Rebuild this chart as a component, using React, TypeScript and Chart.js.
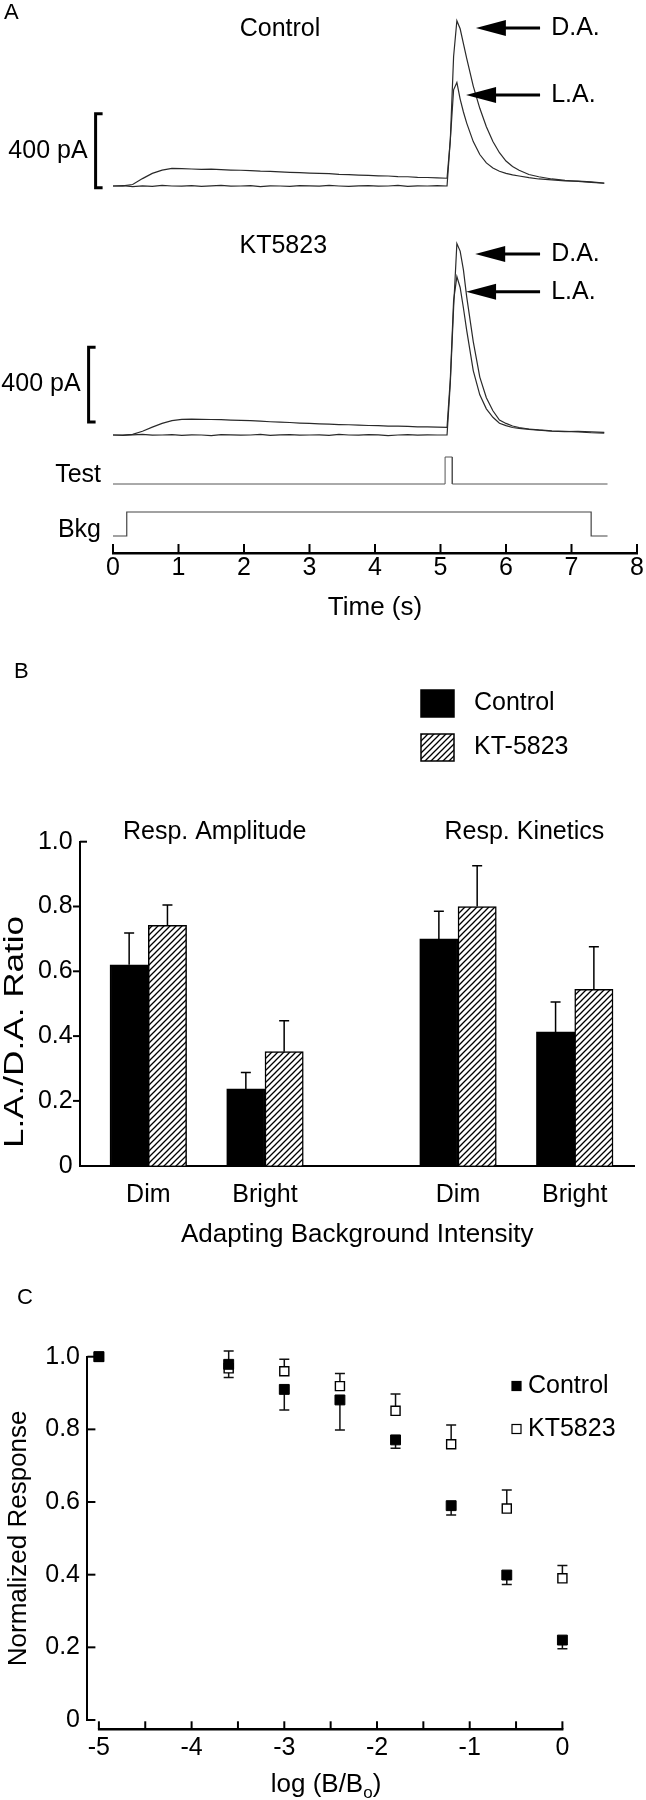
import React, { useEffect, useRef } from 'react';
import { Chart, registerables } from 'chart.js';

Chart.register(...registerables);

const FONT_FAMILY = "'Liberation Sans', Arial, Helvetica, sans-serif";
const font = (size: number) => `${size}px ${FONT_FAMILY}`;
const TEXT = 25;
Chart.defaults.font.family = FONT_FAMILY;
Chart.defaults.color = '#000';

// ---------------- Panel A : current traces ----------------
const traceTime = [0, 0.15, 0.3, 0.45, 0.6, 0.75, 0.9, 1.05, 1.2, 1.35, 1.5, 1.65, 1.8, 1.95, 2.1, 2.25, 2.4, 2.55, 2.7, 2.85, 3.0, 3.15, 3.3, 3.45, 3.6, 3.75, 3.9, 4.05, 4.2, 4.35, 4.5, 4.65, 4.8, 4.95, 5.1,
  5.15, 5.2, 5.25, 5.3, 5.35, 5.4, 5.5, 5.6, 5.7, 5.8, 5.9, 6.0, 6.1, 6.2, 6.35, 6.5, 6.7, 6.9, 7.1, 7.3, 7.5];
const controlDA = [0, 2, -3, 1, -2, 3, 0, -1, 2, -2, 1, 3, -1, 0, 2, -3, 1, 0, -2, 2, 1, -1, 3, 0, -2, 1, 2, -1, 0, 3, -2, 1, 0, 2, 0,
  250, 700, 893, 850, 770, 690, 540, 420, 320, 240, 180, 135, 105, 85, 62, 50, 38, 30, 25, 20, 15];
const controlLA = [0, 1, 8, 40, 68, 86, 95, 94, 92, 90, 91, 88, 86, 85, 83, 80, 79, 76, 74, 72, 70, 68, 67, 63, 62, 59, 57, 55, 54, 51, 50, 47, 46, 44, 42,
  250, 520, 560, 470, 400, 340, 240, 170, 125, 97, 80, 68, 60, 54, 45, 38, 33, 28, 26, 22, 16];
const ktDA = [0, -2, 1, 3, -1, 0, 2, -2, 1, 0, -3, 2, 1, -1, 0, 3, -2, 1, 2, -1, 0, 1, -2, 3, 0, -1, 2, 1, -3, 0, 2, -1, 1, 0, 0,
  280, 680, 1025, 985, 884, 740, 500, 310, 200, 130, 80, 62, 48, 40, 32, 27, 22, 19, 16, 12, 10];
const ktLA = [0, 0, 3, 20, 42, 62, 77, 84, 85, 84, 83, 82, 80, 78, 77, 74, 71, 69, 67, 64, 62, 60, 58, 56, 55, 53, 51, 50, 48, 47, 46, 44, 43, 42, 41,
  300, 720, 848, 790, 680, 560, 345, 215, 140, 95, 63, 50, 40, 35, 30, 26, 20, 18, 20, 17, 14];
const testTime = [0, 5.07, 5.07, 5.18, 5.18, 7.55];
const testLevel = [0, 0, 1, 1, 0, 0];
const bkgTime = [0, 0.21, 0.21, 7.3, 7.3, 7.55];
const bkgLevel = [0, 0, 1, 1, 0, 0];
const timeTicks = [0, 1, 2, 3, 4, 5, 6, 7, 8];
const scaleBarPA = 400;

const tracePanels = [
  { title: 'Control', axis: 'yCtrl', titleAt: [2.55, 849], barX: 95.6, barBase: -10,
    arrows: [{ label: 'D.A.', t: 5.54, v: 854 }, { label: 'L.A.', t: 5.39, v: 492 }] },
  { title: 'KT5823', axis: 'yKT', titleAt: [2.6, 1012], barX: 88.6, barBase: 70,
    arrows: [{ label: 'D.A.', t: 5.53, v: 969 }, { label: 'L.A.', t: 5.39, v: 767 }] },
];

// ---------------- Panel B : ratio bars ----------------
const measures = ['Resp. Amplitude', 'Resp. Kinetics'];
const intensities = ['Dim', 'Bright'];
const controlRatio = [0.62, 0.237, 0.70, 0.413];
const controlRatioErr = [0.098, 0.051, 0.085, 0.092];
const ktRatio = [0.742, 0.352, 0.80, 0.544];
const ktRatioErr = [0.063, 0.095, 0.126, 0.132];
const ratioTicks = [0, 0.2, 0.4, 0.6, 0.8, 1.0];

// ---------------- Panel C : normalized response ----------------
const logIntensity = [-5, -3.6, -3.0, -2.4, -1.8, -1.2, -0.6, 0];
const controlResp = [1.0, 0.979, 0.910, 0.881, 0.771, 0.590, 0.399, 0.220];
const controlSem = [0, 0.036, 0.057, 0.083, 0.023, 0.026, 0.026, 0.024];
const ktResp = [1.0, 0.968, 0.960, 0.919, 0.851, 0.759, 0.582, 0.390];
const ktSem = [0, 0.048, 0.033, 0.035, 0.046, 0.053, 0.051, 0.035];
const logTicks = [-5, -4, -3, -2, -1, 0];
const logMinorTicks = [-5, -4.5, -4, -3.5, -3, -2.5, -2, -1.5, -1, -0.5, 0];
const respTicks = [0, 0.2, 0.4, 0.6, 0.8, 1.0];

const fmtTick = (v: number) => (Math.abs(v) < 1e-9 ? '0' : Number(v).toFixed(1));

function drawArrow(ctx: any, tipX: number, y: number, endX: number) {
  const head = 30, half = 8;
  ctx.beginPath();
  ctx.moveTo(tipX, y);
  ctx.lineTo(tipX + head, y - half);
  ctx.lineTo(tipX + head, y + half);
  ctx.closePath();
  ctx.fill();
  ctx.lineWidth = 3;
  ctx.beginPath();
  ctx.moveTo(tipX + head - 1, y);
  ctx.lineTo(endX, y);
  ctx.stroke();
}

// ---------------- builders ----------------
function buildPanelA(canvas: HTMLCanvasElement) {
  const H = 640;
  const AREA_BOTTOM = 553;
  const yRange = (zeroPx: number, upp: number) => ({ min: -(AREA_BOTTOM - zeroPx) * upp, max: zeroPx * upp });
  const line = (xs: number[], ys: number[], axis: string, color: string, width: number) => ({
    data: xs.map((t, i) => ({ x: t, y: ys[i] })),
    yAxisID: axis, borderColor: color, borderWidth: width, pointRadius: 0, tension: 0, fill: false,
  });
  const TRACE = '#2a2a2a';
  const plugin = {
    id: 'panelA',
    afterDraw(chart: any) {
      const { ctx, chartArea, scales } = chart;
      const x = scales.x;
      ctx.save();
      ctx.fillStyle = '#000';
      ctx.strokeStyle = '#000';
      ctx.lineWidth = 2;
      timeTicks.forEach((v) => {
        const px = x.getPixelForValue(v);
        ctx.beginPath();
        ctx.moveTo(px, chartArea.bottom);
        ctx.lineTo(px, chartArea.bottom - 9);
        ctx.stroke();
      });
      ctx.textBaseline = 'middle';
      ctx.textAlign = 'left';
      ctx.font = font(22);
      ctx.fillText('A', 4, 13);
      ctx.font = font(TEXT);
      tracePanels.forEach((p) => {
        const y = scales[p.axis];
        ctx.textAlign = 'center';
        ctx.fillText(p.title, x.getPixelForValue(p.titleAt[0]), y.getPixelForValue(p.titleAt[1]));
        const top = y.getPixelForValue(p.barBase + scaleBarPA);
        const bot = y.getPixelForValue(p.barBase);
        ctx.lineWidth = 3;
        ctx.beginPath();
        ctx.moveTo(p.barX + 7, top);
        ctx.lineTo(p.barX, top);
        ctx.lineTo(p.barX, bot);
        ctx.lineTo(p.barX + 7, bot);
        ctx.stroke();
        ctx.textAlign = 'right';
        ctx.fillText(`${scaleBarPA} pA`, p.barX - 8, (top + bot) / 2);
        p.arrows.forEach((a) => {
          const ay = y.getPixelForValue(a.v);
          drawArrow(ctx, x.getPixelForValue(a.t), ay, x.getPixelForValue(6.52));
          ctx.textAlign = 'left';
          ctx.fillText(a.label, x.getPixelForValue(6.69), ay);
        });
      });
      ctx.textAlign = 'right';
      ctx.fillText('Test', 101, scales.yTest.getPixelForValue(0.33));
      ctx.fillText('Bkg', 101, scales.yBkg.getPixelForValue(0.25));
      ctx.restore();
    },
  };
  return new Chart(canvas, {
    type: 'line',
    data: {
      datasets: [
        line(traceTime, controlDA, 'yCtrl', TRACE, 1.2),
        line(traceTime, controlLA, 'yCtrl', TRACE, 1.2),
        line(traceTime, ktDA, 'yKT', TRACE, 1.2),
        line(traceTime, ktLA, 'yKT', TRACE, 1.2),
        line(testTime, testLevel, 'yTest', '#555', 1),
        line(bkgTime, bkgLevel, 'yBkg', '#444', 1.2),
      ] as any,
    },
    options: {
      animation: false,
      responsive: false,
      devicePixelRatio: 1,
      layout: { padding: { left: 113, right: 9, top: 0, bottom: 0 } },
      plugins: { legend: { display: false }, tooltip: { enabled: false } },
      scales: {
        x: {
          type: 'linear', min: 0, max: 8, position: 'bottom', offset: false,
          grid: { display: false, drawTicks: false },
          border: { display: true, color: '#000', width: 2.5 },
          ticks: { stepSize: 1, autoSkip: false, maxRotation: 0, padding: 0, color: '#000', font: { size: TEXT } },
          title: { display: true, text: 'Time (s)', color: '#000', font: { size: 26 }, padding: { top: 0, bottom: 17 } },
          afterFit: (s: any) => { s.height = H - AREA_BOTTOM; },
        },
        yCtrl: { type: 'linear', display: false, ...yRange(186, scaleBarPA / 74) },
        yKT: { type: 'linear', display: false, ...yRange(435, scaleBarPA / 74.7) },
        yTest: { type: 'linear', display: false, ...yRange(484, 1 / 27) },
        yBkg: { type: 'linear', display: false, ...yRange(536, 1 / 24) },
      } as any,
    },
    plugins: [plugin],
  } as any);
}

function makeHatch(ctx: CanvasRenderingContext2D) {
  const s = 6;
  const c = document.createElement('canvas');
  c.width = s;
  c.height = s;
  const g = c.getContext('2d')!;
  g.fillStyle = '#fff';
  g.fillRect(0, 0, s, s);
  g.strokeStyle = '#000';
  g.lineWidth = 1.3;
  g.beginPath();
  g.moveTo(0, s); g.lineTo(s, 0);
  g.moveTo(-s / 2, s / 2); g.lineTo(s / 2, -s / 2);
  g.moveTo(s / 2, s * 1.5); g.lineTo(s * 1.5, s / 2);
  g.stroke();
  return ctx.createPattern(c, 'repeat');
}

function buildPanelB(canvas: HTMLCanvasElement) {
  const H = 610;
  const AREA_TOP = 201.7;
  const AREA_BOTTOM = 525.7;
  const AXIS_LEFT = 80;
  const AXIS_RIGHT = 634.5;
  const GROUP_GAP = 2.654;
  const PX_PER_SLOT = 116.7;
  const FIRST_PX = 148.3;
  const positions = measures.flatMap((_, mi) => intensities.map((__, ii) => mi * GROUP_GAP + ii));
  const tickNames = measures.flatMap(() => intensities);
  const xMin = -(FIRST_PX - AXIS_LEFT) / PX_PER_SLOT;
  const xMax = xMin + (AXIS_RIGHT - AXIS_LEFT) / PX_PER_SLOT;
  const hatch = makeHatch(canvas.getContext('2d')!);
  const plugin = {
    id: 'panelB',
    afterDatasetsDraw(chart: any) {
      const { ctx, scales } = chart;
      ctx.save();
      ctx.strokeStyle = '#000';
      ctx.lineWidth = 1.5;
      chart.data.datasets.forEach((ds: any, di: number) => {
        chart.getDatasetMeta(di).data.forEach((bar: any, i: number) => {
          const top = scales.y.getPixelForValue(ds.data[i].y + ds.err[i]);
          ctx.beginPath();
          ctx.moveTo(bar.x, bar.y);
          ctx.lineTo(bar.x, top);
          ctx.moveTo(bar.x - 5, top);
          ctx.lineTo(bar.x + 5, top);
          ctx.stroke();
        });
      });
      ctx.restore();
    },
    afterDraw(chart: any) {
      const { ctx, chartArea, scales } = chart;
      ctx.save();
      ctx.fillStyle = '#000';
      ctx.strokeStyle = '#000';
      ctx.lineWidth = 2;
      ratioTicks.forEach((v) => {
        if (v === 0) return;
        const py = scales.y.getPixelForValue(v);
        const dir = v === 1 ? 1 : -1;
        ctx.beginPath();
        ctx.moveTo(chartArea.left, py);
        ctx.lineTo(chartArea.left + dir * 7, py);
        ctx.stroke();
      });
      ctx.textBaseline = 'middle';
      ctx.textAlign = 'left';
      ctx.font = font(22);
      ctx.fillText('B', 14, 32);
      // y title (stretched along its length like the original)
      ctx.save();
      ctx.translate(16, 392);
      ctx.rotate(-Math.PI / 2);
      ctx.scale(1.3, 1);
      ctx.textAlign = 'center';
      ctx.font = font(27);
      ctx.fillText('L.A./D.A. Ratio', 0, 0);
      ctx.restore();
      ctx.font = font(TEXT);
      chart.data.datasets.forEach((ds: any, i: number) => {
        const bx = 421, by = 50 + i * 44, bw = 33, bh = 27;
        ctx.fillStyle = ds.backgroundColor;
        ctx.fillRect(bx, by, bw, bh);
        ctx.strokeStyle = '#000';
        ctx.lineWidth = 1.5;
        ctx.strokeRect(bx, by, bw, bh);
        ctx.fillStyle = '#000';
        ctx.fillText(ds.label, 474, by + bh / 2);
      });
      ctx.textAlign = 'center';
      measures.forEach((m, mi) => {
        ctx.fillText(m, scales.x.getPixelForValue(mi * GROUP_GAP + 0.5) + 8, chartArea.top - 10);
      });
      ctx.restore();
    },
  };
  return new Chart(canvas, {
    type: 'bar',
    data: {
      datasets: [
        { label: 'Control', data: positions.map((p, i) => ({ x: p, y: controlRatio[i] })), err: controlRatioErr,
          backgroundColor: '#000', borderColor: '#000', borderWidth: 1.5, barThickness: 38.3 },
        { label: 'KT-5823', data: positions.map((p, i) => ({ x: p, y: ktRatio[i] })), err: ktRatioErr,
          backgroundColor: hatch, borderColor: '#000', borderWidth: 1.5, barThickness: 38.3 },
      ] as any,
    },
    options: {
      animation: false,
      responsive: false,
      devicePixelRatio: 1,
      layout: { padding: { left: 0, right: 646 - AXIS_RIGHT, top: AREA_TOP, bottom: 0 } },
      plugins: { legend: { display: false }, tooltip: { enabled: false } },
      scales: {
        x: {
          type: 'linear', min: xMin, max: xMax, offset: false,
          grid: { display: false, drawTicks: false, offset: false },
          border: { display: true, color: '#000', width: 2 },
          afterBuildTicks: (s: any) => { s.ticks = positions.map((v) => ({ value: v })); },
          ticks: { autoSkip: false, maxRotation: 0, padding: 14, color: '#000', font: { size: TEXT },
            callback: (_v: any, i: number) => tickNames[i] },
          title: { display: true, text: 'Adapting Background Intensity', color: '#000', font: { size: 26 }, padding: { top: 0, bottom: 0 } },
          afterFit: (s: any) => { s.height = H - AREA_BOTTOM; },
        },
        y: {
          type: 'linear', min: 0, max: 1,
          afterBuildTicks: (s: any) => { s.ticks = ratioTicks.map((v) => ({ value: v })); },
          ticks: { padding: 7.3, color: '#000', font: { size: TEXT }, callback: (v: any) => fmtTick(v) },
          grid: { display: false, drawTicks: false },
          border: { display: true, color: '#000', width: 2 },
          afterFit: (s: any) => { s.width = AXIS_LEFT; },
        },
      } as any,
    },
    plugins: [plugin],
  } as any);
}

function buildPanelC(canvas: HTMLCanvasElement) {
  const H = 550;
  const AREA_BOTTOM = 470;
  const AXIS_LEFT = 87.4;
  const AREA_RIGHT = 575;
  const PX_PER_LOG = 92.7;
  const FIRST_LOG_PX = 98.9;
  const xMin = logIntensity[0] - (FIRST_LOG_PX - AXIS_LEFT) / PX_PER_LOG;
  const xMax = xMin + (AREA_RIGHT - AXIS_LEFT) / PX_PER_LOG;
  const plugin = {
    id: 'panelC',
    beforeDatasetsDraw(chart: any) {
      const { ctx, scales } = chart;
      ctx.save();
      ctx.lineWidth = 1.5;
      chart.data.datasets.forEach((ds: any) => {
        ctx.strokeStyle = '#111';
        ds.data.forEach((pt: any, i: number) => {
          const e = ds.err[i];
          if (!e) return;
          const px = scales.x.getPixelForValue(pt.x);
          const y0 = scales.y.getPixelForValue(pt.y);
          const y1 = scales.y.getPixelForValue(pt.y + ds.errDir * e);
          ctx.beginPath();
          ctx.moveTo(px, y0);
          ctx.lineTo(px, y1);
          ctx.moveTo(px - 5, y1);
          ctx.lineTo(px + 5, y1);
          ctx.stroke();
        });
      });
      ctx.restore();
    },
    afterDraw(chart: any) {
      const { ctx, chartArea, scales } = chart;
      const x = scales.x;
      const axisY = chartArea.bottom + 9.3;
      ctx.save();
      ctx.strokeStyle = '#000';
      ctx.fillStyle = '#000';
      ctx.lineWidth = 2.5;
      ctx.beginPath();
      ctx.moveTo(x.getPixelForValue(logTicks[0]) - 1, axisY);
      ctx.lineTo(x.getPixelForValue(logTicks[logTicks.length - 1]) + 1, axisY);
      ctx.stroke();
      ctx.lineWidth = 2;
      logMinorTicks.forEach((v) => {
        const px = x.getPixelForValue(v);
        ctx.beginPath();
        ctx.moveTo(px, axisY);
        ctx.lineTo(px, axisY - 8);
        ctx.stroke();
      });
      respTicks.forEach((v) => {
        const py = scales.y.getPixelForValue(v);
        ctx.beginPath();
        ctx.moveTo(chartArea.left, py);
        ctx.lineTo(chartArea.left + 8, py);
        ctx.stroke();
      });
      ctx.textBaseline = 'middle';
      ctx.textAlign = 'left';
      ctx.font = font(22);
      ctx.fillText('C', 17, 48);
      const main = 'log (B/B';
      const sub = 'o';
      const tail = ')';
      ctx.font = font(26);
      const wMain = ctx.measureText(main).width;
      const wTail = ctx.measureText(tail).width;
      ctx.font = font(17);
      const wSub = ctx.measureText(sub).width;
      const cx = x.getPixelForValue(-2.55);
      const ty = 535;
      let sx = cx - (wMain + wSub + wTail) / 2;
      ctx.font = font(26);
      ctx.fillText(main, sx, ty);
      sx += wMain;
      ctx.font = font(17);
      ctx.fillText(sub, sx, ty + 8);
      sx += wSub;
      ctx.font = font(26);
      ctx.fillText(tail, sx, ty);
      ctx.font = font(TEXT);
      chart.data.datasets.forEach((ds: any, i: number) => {
        const cy = 136 + i * 43;
        const s = 9;
        ctx.fillStyle = ds.backgroundColor;
        ctx.fillRect(516.5 - s / 2, cy - s / 2, s, s);
        ctx.strokeStyle = '#000';
        ctx.lineWidth = 1.2;
        ctx.strokeRect(516.5 - s / 2, cy - s / 2, s, s);
        ctx.fillStyle = '#000';
        ctx.fillText(ds.label, 528, cy);
      });
      ctx.restore();
    },
  };
  return new Chart(canvas, {
    type: 'scatter',
    data: {
      datasets: [
        { label: 'Control', data: logIntensity.map((v, i) => ({ x: v, y: controlResp[i] })), err: controlSem, errDir: -1,
          pointStyle: 'rect', pointRadius: 7, backgroundColor: '#000', borderColor: '#000', borderWidth: 1, clip: false },
        { label: 'KT5823', data: logIntensity.map((v, i) => ({ x: v, y: ktResp[i] })), err: ktSem, errDir: 1,
          pointStyle: 'rect', pointRadius: 6.4, backgroundColor: '#fff', borderColor: '#000', borderWidth: 1.4, clip: false },
      ] as any,
    },
    options: {
      animation: false,
      responsive: false,
      devicePixelRatio: 1,
      layout: { padding: { left: 0, right: 646 - AREA_RIGHT, top: 106.7, bottom: 0 } },
      plugins: { legend: { display: false }, tooltip: { enabled: false } },
      scales: {
        x: {
          type: 'linear', min: xMin, max: xMax, offset: false,
          grid: { display: false, drawTicks: false },
          border: { display: false },
          afterBuildTicks: (s: any) => { s.ticks = logTicks.map((v) => ({ value: v })); },
          ticks: { autoSkip: false, maxRotation: 0, padding: 13, color: '#000', font: { size: TEXT },
            callback: (v: any) => String(v) },
          afterFit: (s: any) => { s.height = H - AREA_BOTTOM; },
        },
        y: {
          type: 'linear', min: 0, max: 1,
          afterBuildTicks: (s: any) => { s.ticks = respTicks.map((v) => ({ value: v })); },
          ticks: { padding: 7.4, color: '#000', font: { size: TEXT }, callback: (v: any) => fmtTick(v) },
          grid: { display: false, drawTicks: false },
          border: { display: true, color: '#000', width: 2 },
          title: { display: true, text: 'Normalized Response', color: '#000', font: { size: 26 }, padding: { top: 3.5, bottom: 0 } },
          afterFit: (s: any) => { s.width = AXIS_LEFT; },
        },
      } as any,
    },
    plugins: [plugin],
  } as any);
}

export default function App() {
  const aRef = useRef<HTMLCanvasElement>(null);
  const bRef = useRef<HTMLCanvasElement>(null);
  const cRef = useRef<HTMLCanvasElement>(null);

  useEffect(() => {
    const charts: Chart[] = [];
    if (aRef.current) charts.push(buildPanelA(aRef.current));
    if (bRef.current) charts.push(buildPanelB(bRef.current));
    if (cRef.current) charts.push(buildPanelC(cRef.current));
    return () => charts.forEach((c) => c.destroy());
  }, []);

  const canvasStyle = (top: number, h: number): React.CSSProperties => ({
    position: 'absolute', left: 0, top, width: 646, height: h, display: 'block',
  });

  return (
    <div style={{ position: 'absolute', left: 0, top: 0, width: 646, height: 1800, background: '#fff' }}>
      <canvas ref={aRef} width={646} height={640} style={canvasStyle(0, 640)} />
      <canvas ref={bRef} width={646} height={610} style={canvasStyle(640, 610)} />
      <canvas ref={cRef} width={646} height={550} style={canvasStyle(1250, 550)} />
    </div>
  );
}
